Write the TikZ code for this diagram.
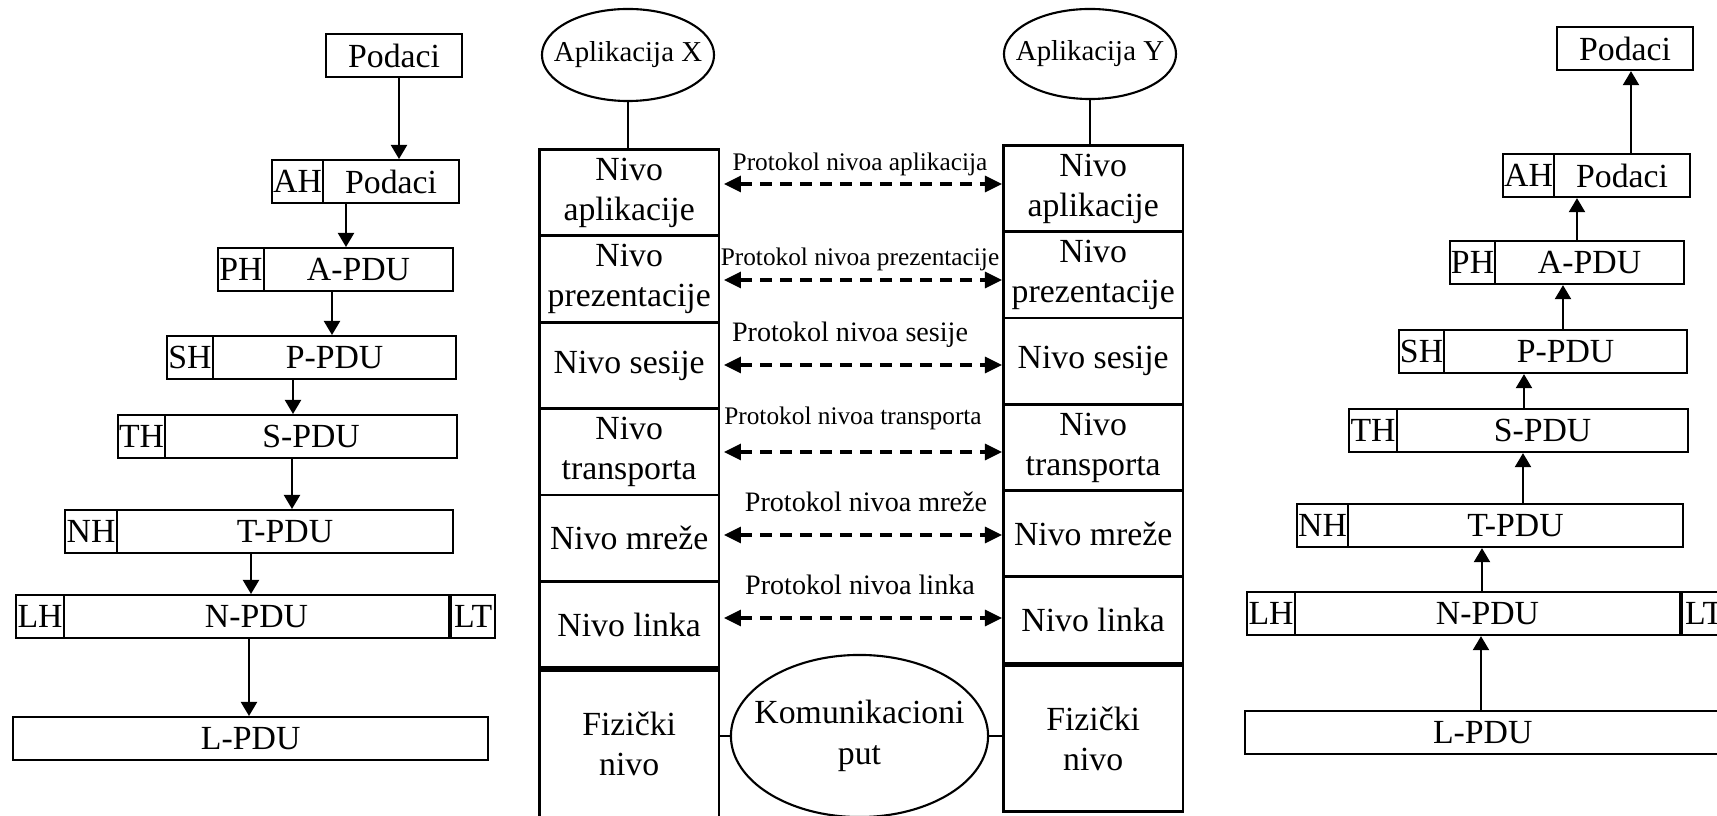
\documentclass[tikz,border=0pt]{standalone}
\usepackage{fontspec}
\setmainfont{Liberation Serif}
\usetikzlibrary{arrows.meta,shapes.geometric}

\tikzset{
  pdubox/.style={draw,line width=0.6pt,inner sep=0pt,minimum height=0.43cm,
    anchor=north west,font=\fontsize{9.6}{11}\selectfont},
  pduarrow/.style={line width=0.6pt,-{Triangle[width=0.16cm,length=0.14cm]}},
  layerbox/.style={draw,line width=0.8pt,inner sep=0pt,minimum width=1.795cm,
    anchor=north west,align=center,font=\fontsize{9.6}{11.4}\selectfont},
  protarrow/.style={line width=0.9pt,dash pattern=on 0.12cm off 0.08cm,shorten <=1pt,
    {Triangle[width=0.16cm,length=0.17cm]}-{Triangle[width=0.16cm,length=0.17cm]}},
  protlabel/.style={inner sep=0pt},
  appnode/.style={draw,ellipse,line width=0.6pt,inner sep=0pt,
    font=\fontsize{8.2}{9.5}\selectfont},
}

\begin{document}
\begin{tikzpicture}[x=0.01cm,y=-0.01cm]
  \clip (0,0) rectangle (1717,816);

  % sender: data wrapped going down
  \node[pdubox,minimum width=1.36cm] (l1) at (325,33) {Podaci};
  \foreach \n/\hd/\pl/\xa/\xb/\xc/\y in {2/AH/Podaci/271/322/458/159,
      3/PH/A-PDU/217/263/452/247, 4/SH/P-PDU/166/212/455/335,
      5/TH/S-PDU/117/164/456/414, 6/NH/T-PDU/64/116/452/509,
      7/LH/N-PDU/15/63/448/594}{
    \pgfmathsetmacro\wh{(\xb-\xa)*0.01}
    \pgfmathsetmacro\wp{(\xc-\xb)*0.01}
    \node[pdubox,minimum width=\wh cm] (lh\n) at (\xa,\y) {\hd};
    \node[pdubox,minimum width=\wp cm] (l\n) at (\xb,\y) {\pl};
  }
  \node[pdubox,minimum width=0.44cm] (llt) at (l7.north east) {LT};
  \node[pdubox,minimum width=4.75cm] (l8) at (12,716) {L-PDU};
  \foreach \m/\n/\ax in {1/2/399,2/3/346,3/4/332,4/5/293,5/6/292,6/7/251,7/8/249}
    \draw[pduarrow] (l\m.south -| \ax,0) -- (l\n.north -| \ax,0);

  % receiver: data unwrapped going up
  \node[pdubox,minimum width=1.36cm] (r1) at (1556,26) {Podaci};
  \foreach \n/\hd/\pl/\xa/\xb/\xc/\y in {2/AH/Podaci/1502/1553/1689/153,
      3/PH/A-PDU/1449/1494/1683/240, 4/SH/P-PDU/1398/1443/1686/329,
      5/TH/S-PDU/1348/1396/1687/408, 6/NH/T-PDU/1296/1347/1682/503,
      7/LH/N-PDU/1246/1294/1679/591}{
    \pgfmathsetmacro\wh{(\xb-\xa)*0.01}
    \pgfmathsetmacro\wp{(\xc-\xb)*0.01}
    \node[pdubox,minimum width=\wh cm] (rh\n) at (\xa,\y) {\hd};
    \node[pdubox,minimum width=\wp cm] (r\n) at (\xb,\y) {\pl};
  }
  \node[pdubox,minimum width=0.44cm] (rlt) at (r7.north east) {LT};
  \node[pdubox,minimum width=4.75cm] (r8) at (1244,710) {L-PDU};
  \foreach \m/\n/\ax in {1/2/1631,2/3/1577,3/4/1563,4/5/1524,5/6/1523,6/7/1482,7/8/1481}
    \draw[pduarrow] (r\n.north -| \ax,0) -- (r\m.south -| \ax,0);

  % the two layer stacks
  \foreach \i/\t in {1/{Nivo\\aplikacije},2/{Nivo\\prezentacije},3/{Nivo sesije},
      4/{Nivo\\transporta},5/{Nivo mreže},6/{Nivo linka}}{
    \node[layerbox,minimum height=0.864cm] (xl\i) at (538,{148+(\i-1)*86.4}) {\t};
    \node[layerbox,minimum height=0.863cm] (xr\i) at (1002,{144+(\i-1)*86.3}) {\t};
  }
  \node[layerbox,minimum height=1.47cm] (xl7) at (xl6.south west) {Fizički\\nivo};
  \node[layerbox,minimum height=1.45cm] (xr7) at (xr6.south west) {Fizički\\nivo};

  \node[appnode,minimum width=1.72cm,minimum height=0.92cm] (appX) at (628,55)
    {\makebox[0pt]{Aplikacija X}};
  \node[appnode,minimum width=1.72cm,minimum height=0.90cm] (appY) at (1090,54)
    {\makebox[0pt]{Aplikacija Y}};
  \draw[line width=0.6pt] (appX.south) -- (appX.south |- xl1.north);
  \draw[line width=0.6pt] (appY.south) -- (appY.south |- xr1.north);

  % peer protocols
  \foreach \i/\y/\lx/\ly/\fs/\t in {1/184/860/164/7.2/Protokol nivoa aplikacija,
      2/280/860/259/7.2/Protokol nivoa prezentacije,
      3/365/850/335/8/Protokol nivoa sesije,
      4/452/853/418/7.2/Protokol nivoa transporta,
      5/535/866/502/8/Protokol nivoa mreže,
      6/618/860/585/8/Protokol nivoa linka}{
    \draw[protarrow] (xl\i.east |- 0,\y) -- (xr\i.west |- 0,\y);
    \node[protlabel,font=\fontsize{\fs}{9}\selectfont] (pl\i) at (\lx,\ly) {\t};
  }

  % physical medium
  \node[appnode,font=\fontsize{9.6}{11.4}\selectfont,
    minimum width=2.57cm,minimum height=1.62cm] (kom) at (859.5,736)
    {\makebox[0pt]{\begin{tabular}{@{}c@{}}Komunikacioni\\put\end{tabular}}};
  \draw[line width=0.6pt] (kom.west) -- (kom.west -| xl7.east);
  \draw[line width=0.6pt] (kom.east) -- (kom.east -| xr7.west);
\end{tikzpicture}
\end{document}
